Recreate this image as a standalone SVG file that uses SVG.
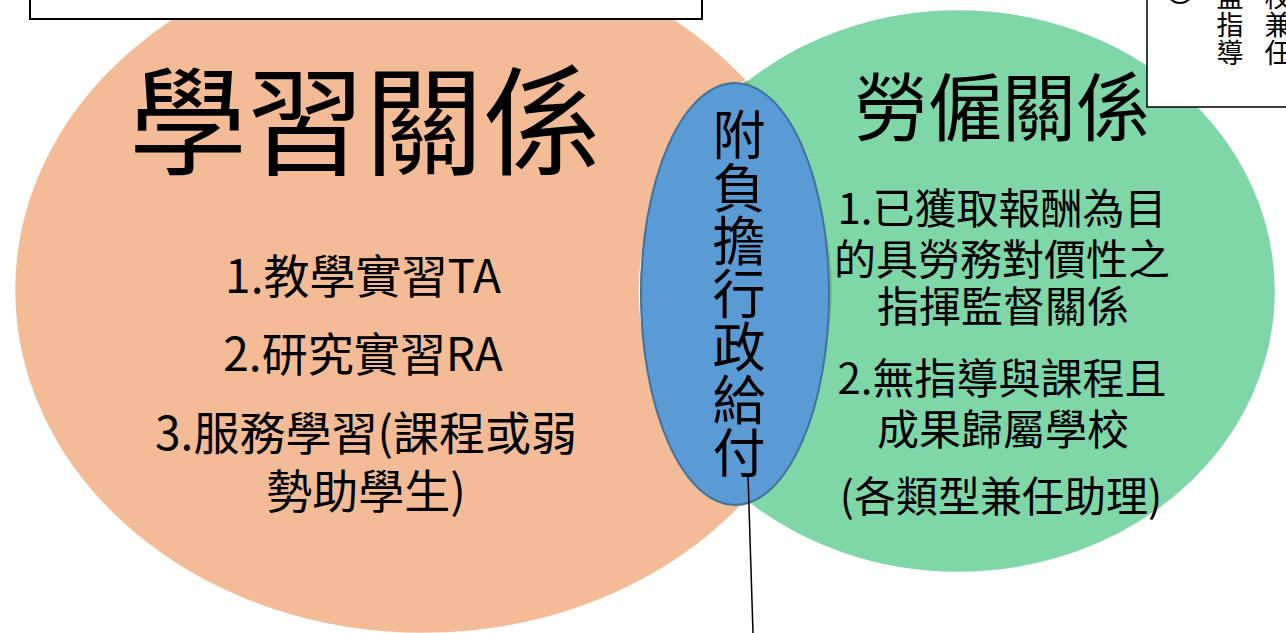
<svg xmlns="http://www.w3.org/2000/svg" width="1286" height="633" viewBox="0 0 1286 633">
<style>
.cjk{font-family:"Noto Sans CJK TC","Noto Sans CJK SC",sans-serif;fill:#000}
.title{font-size:118px}
.title2{font-size:74px}
.lst{font-size:46px;text-anchor:middle}
.rlst{font-size:42px;text-anchor:middle}
.vt{font-size:53px;text-anchor:middle}
.sm{font-size:27px;text-anchor:middle}
.box{fill:#fff;stroke:#000}
</style>
<defs>
<clipPath id="gclip"><ellipse cx="958" cy="291" rx="318" ry="282"/></clipPath>
</defs>
<rect width="1286" height="633" fill="#fff"/>
<g id="learning">
<ellipse cx="423" cy="290" rx="409" ry="344" fill="#F4BC96" stroke="#fff" stroke-width="2.5"/>
<text class="cjk title" x="365" y="166" text-anchor="middle">學習關係</text>
<text class="cjk lst" x="363" y="293">1.教學實習TA</text>
<text class="cjk lst" x="363" y="371">2.研究實習RA</text>
<text class="cjk lst" x="366" y="450">3.服務學習(課程或弱</text>
<text class="cjk lst" x="366" y="508">勢助學生)</text>
</g>
<g id="employment">
<ellipse cx="958" cy="291" rx="318" ry="282" fill="#7FD6A7" stroke="#fff" stroke-width="2.5"/>
<ellipse cx="423" cy="290" rx="409" ry="344" fill="#7EB87C" clip-path="url(#gclip)"/>
<text class="cjk title2" x="1002" y="135" text-anchor="middle">勞僱關係</text>
<text class="cjk rlst" x="1002" y="224">1.已獲取報酬為目</text>
<text class="cjk rlst" x="1002" y="275">的具勞務對價性之</text>
<text class="cjk rlst" x="1003" y="322">指揮監督關係</text>
<text class="cjk rlst" x="1002" y="394">2.無指導與課程且</text>
<text class="cjk rlst" x="1003" y="445">成果歸屬學校</text>
<text class="cjk rlst" x="1001" y="512">(各類型兼任助理)</text>
</g>
<g id="admin">
<ellipse cx="735" cy="294" rx="94" ry="211" fill="#5B9BD5" stroke="#41719C" stroke-width="2"/>
<text class="cjk vt"><tspan x="739" y="155">附</tspan><tspan x="739" y="208">負</tspan><tspan x="739" y="261">擔</tspan><tspan x="739" y="314">行</tspan><tspan x="739" y="367">政</tspan><tspan x="739" y="420">給</tspan><tspan x="739" y="473">付</tspan></text>
</g>
<g id="topleftbox">
<rect class="box" x="30" y="-10" width="672" height="29" stroke-width="2"/>
</g>
<g id="toprightbox">
<rect class="box" x="1147" y="-10" width="200" height="117" stroke-width="1.5"/>
<circle cx="1180" cy="-10" r="13" fill="none" stroke="#000" stroke-width="2"/>
<text class="cjk sm"><tspan x="1230" y="7">監</tspan><tspan x="1230" y="35">指</tspan><tspan x="1230" y="63">導</tspan></text>
<text class="cjk sm"><tspan x="1278" y="7">校</tspan><tspan x="1278" y="35">兼</tspan><tspan x="1278" y="63">任</tspan></text>
</g>
<g id="connectors">
<line x1="748" y1="475" x2="753" y2="633" stroke="#000" stroke-width="1.5"/>
</g>
</svg>
